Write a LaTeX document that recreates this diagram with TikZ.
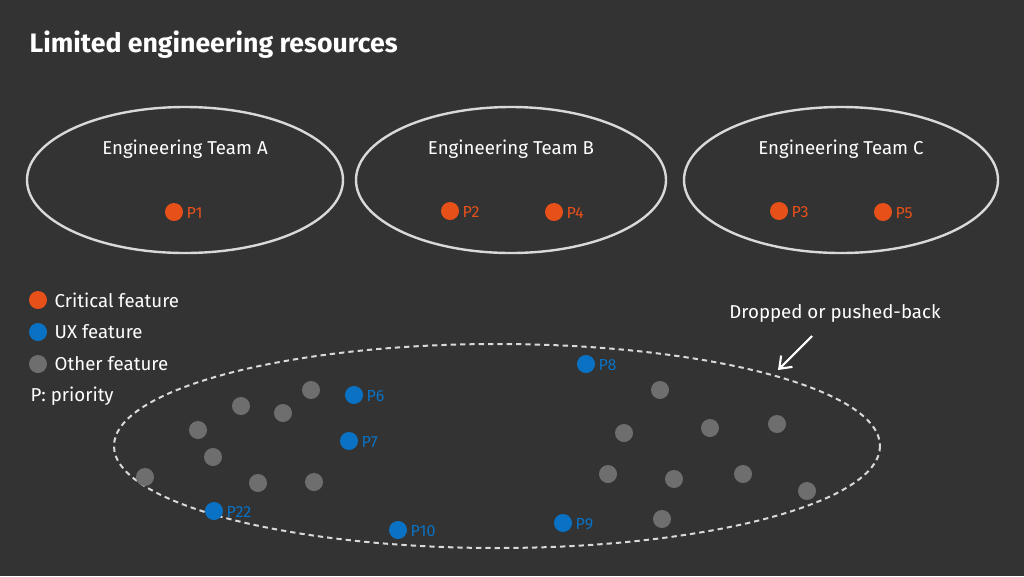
\documentclass[tikz,border=0pt]{standalone}
\usepackage{fontspec}
\usetikzlibrary{arrows.meta}
\setmainfont{Fira Sans}
\definecolor{bg}{HTML}{333333}
\definecolor{crit}{HTML}{E8501A}
\definecolor{ux}{HTML}{0A72C4}
\definecolor{oth}{HTML}{6E6E6E}
\definecolor{ln}{HTML}{D9D9D9}
\begin{document}
\begin{tikzpicture}[x=0.75pt,y=-0.75pt,
  dot/.style={circle,fill=#1,minimum size=13.5pt,inner sep=0pt},
  lab/.style={font=\fontsize{12}{14}\selectfont,text=#1,anchor=west,inner sep=1pt},
  team/.style={draw=ln,line width=1.8pt},
  tt/.style={text=white,font=\fontsize{14}{16}\selectfont},
  leg/.style={text=white,font=\fontsize{14}{16}\selectfont,anchor=west}]
\fill[bg] (0,0) rectangle (1024,576);
\useasboundingbox (0,0) rectangle (1024,576);
\node[anchor=west,text=white,font=\fontsize{20}{24}\selectfont\bfseries] (title) at (25,45) {Limited engineering resources};
\draw[team] (185,180) ellipse [x radius=158,y radius=73];
\draw[team] (511,180) ellipse [x radius=155,y radius=73];
\draw[team] (841,180) ellipse [x radius=157,y radius=73];
\node[tt] (ta) at (185,149) {Engineering Team A};
\node[tt] (tb) at (511,149) {Engineering Team B};
\node[tt] (tc) at (841,149) {Engineering Team C};
\foreach \n/\x/\y in {P1/174/212,P2/450/211,P4/554/212,P3/779/211,P5/883/212}
  {\node[dot=crit] (\n) at (\x,\y) {}; \node[lab=crit] at (\x+11,\y+1) {\n};}
\draw[ln,line width=1.5pt,dash pattern=on 4pt off 3pt] (497,446) ellipse [x radius=383,y radius=102];
\foreach \n/\x/\y in {P6/354/395,P7/349/441,P8/586/364,P22/214/511,P10/398/530,P9/563/523}
  {\node[dot=ux] (\n) at (\x,\y) {}; \node[lab=ux] at (\x+11,\y+1) {\n};}
\foreach \x/\y [count=\i] in {311/390,241/406,283/413,198/430,213/457,145/477,258/483,314/482,660/390,624/433,710/428,777/424,608/474,674/479,743/474,807/491,662/519}
  \node[dot=oth] (g\i) at (\x,\y) {};
\node[dot=crit] (l1) at (38,300) {}; \node[leg] at (50,300) {Critical feature};
\node[dot=ux] (l2) at (38,332) {}; \node[leg] at (50,332) {UX feature};
\node[dot=oth] (l3) at (38,364) {}; \node[leg] at (50,364) {Other feature};
\node[leg] (lp) at (26,396) {P: priority};
\node[tt] (drop) at (835,313) {Dropped or pushed-back};
\coordinate (tip) at (778,370);
\draw[white,line width=1.6pt,-{Straight Barb[length=8pt,width=12pt]}] (812,336) -- (tip);
\end{tikzpicture}
\end{document}
